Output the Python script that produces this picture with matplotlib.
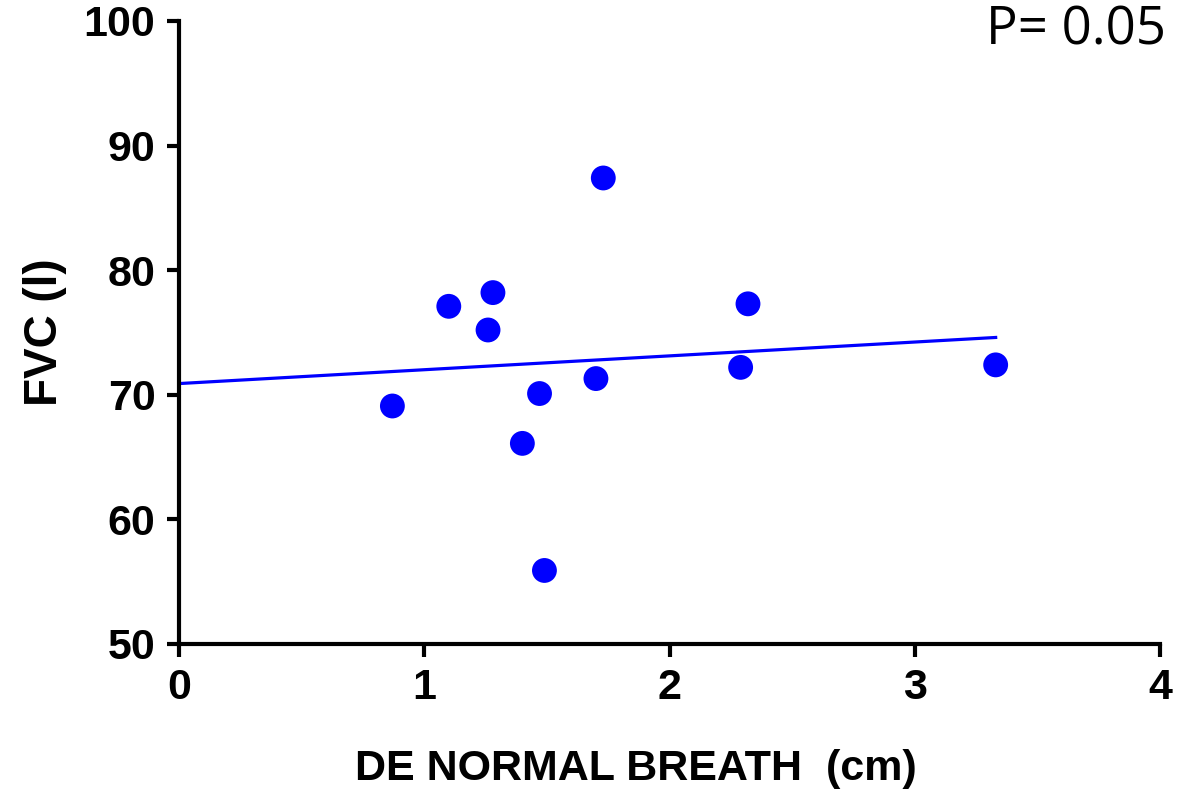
import numpy as np
import matplotlib
matplotlib.use("Agg")
import matplotlib.pyplot as plt

# data
de_normal = [0.87, 1.10, 1.28, 1.26, 1.40, 1.47, 1.49, 1.73, 1.70, 2.32, 2.29, 3.33]
fvc = [69.1, 77.1, 78.2, 75.2, 66.1, 70.1, 55.9, 87.4, 71.3, 77.3, 72.2, 72.4]
fit_x = [0.0, 3.33]
fit_y = [70.9, 74.6]
x_ticks = [0, 1, 2, 3, 4]
y_ticks = [50, 60, 70, 80, 90, 100]

plt.rcParams["font.family"] = ["Liberation Sans", "DejaVu Sans"]

fig = plt.figure(figsize=(11.81, 7.92), dpi=100)
ax = fig.add_axes([0.1516, 0.1869, 0.8306, 0.7866])

ax.plot(fit_x, fit_y, color="#0000ff", linewidth=2.3, zorder=2)
ax.scatter(de_normal, fvc, s=320, color="#0000ff", edgecolors="none", zorder=3)

ax.set_xlim(0, 4)
ax.set_ylim(50, 100)
ax.set_xticks(x_ticks)
ax.set_yticks(y_ticks)

for side in ["top", "right"]:
    ax.spines[side].set_visible(False)
for side in ["left", "bottom"]:
    ax.spines[side].set_linewidth(3)
ax.tick_params(axis="both", direction="out", length=9, width=3, labelsize=31, pad=8)
for lbl in ax.get_xticklabels() + ax.get_yticklabels():
    lbl.set_fontweight("bold")

ax.set_ylabel("FVC (l)", fontsize=33, fontweight="bold", labelpad=12)
ax.set_xlabel("DE NORMAL BREATH  (cm)", fontsize=31, fontweight="bold", labelpad=30,
              x=0.466)

fig.text(0.987, 0.995, "P= 0.05", ha="right", va="top", fontsize=38,
         family=["Open Sans", "DejaVu Sans"])

fig.savefig("out.png", dpi=100)
